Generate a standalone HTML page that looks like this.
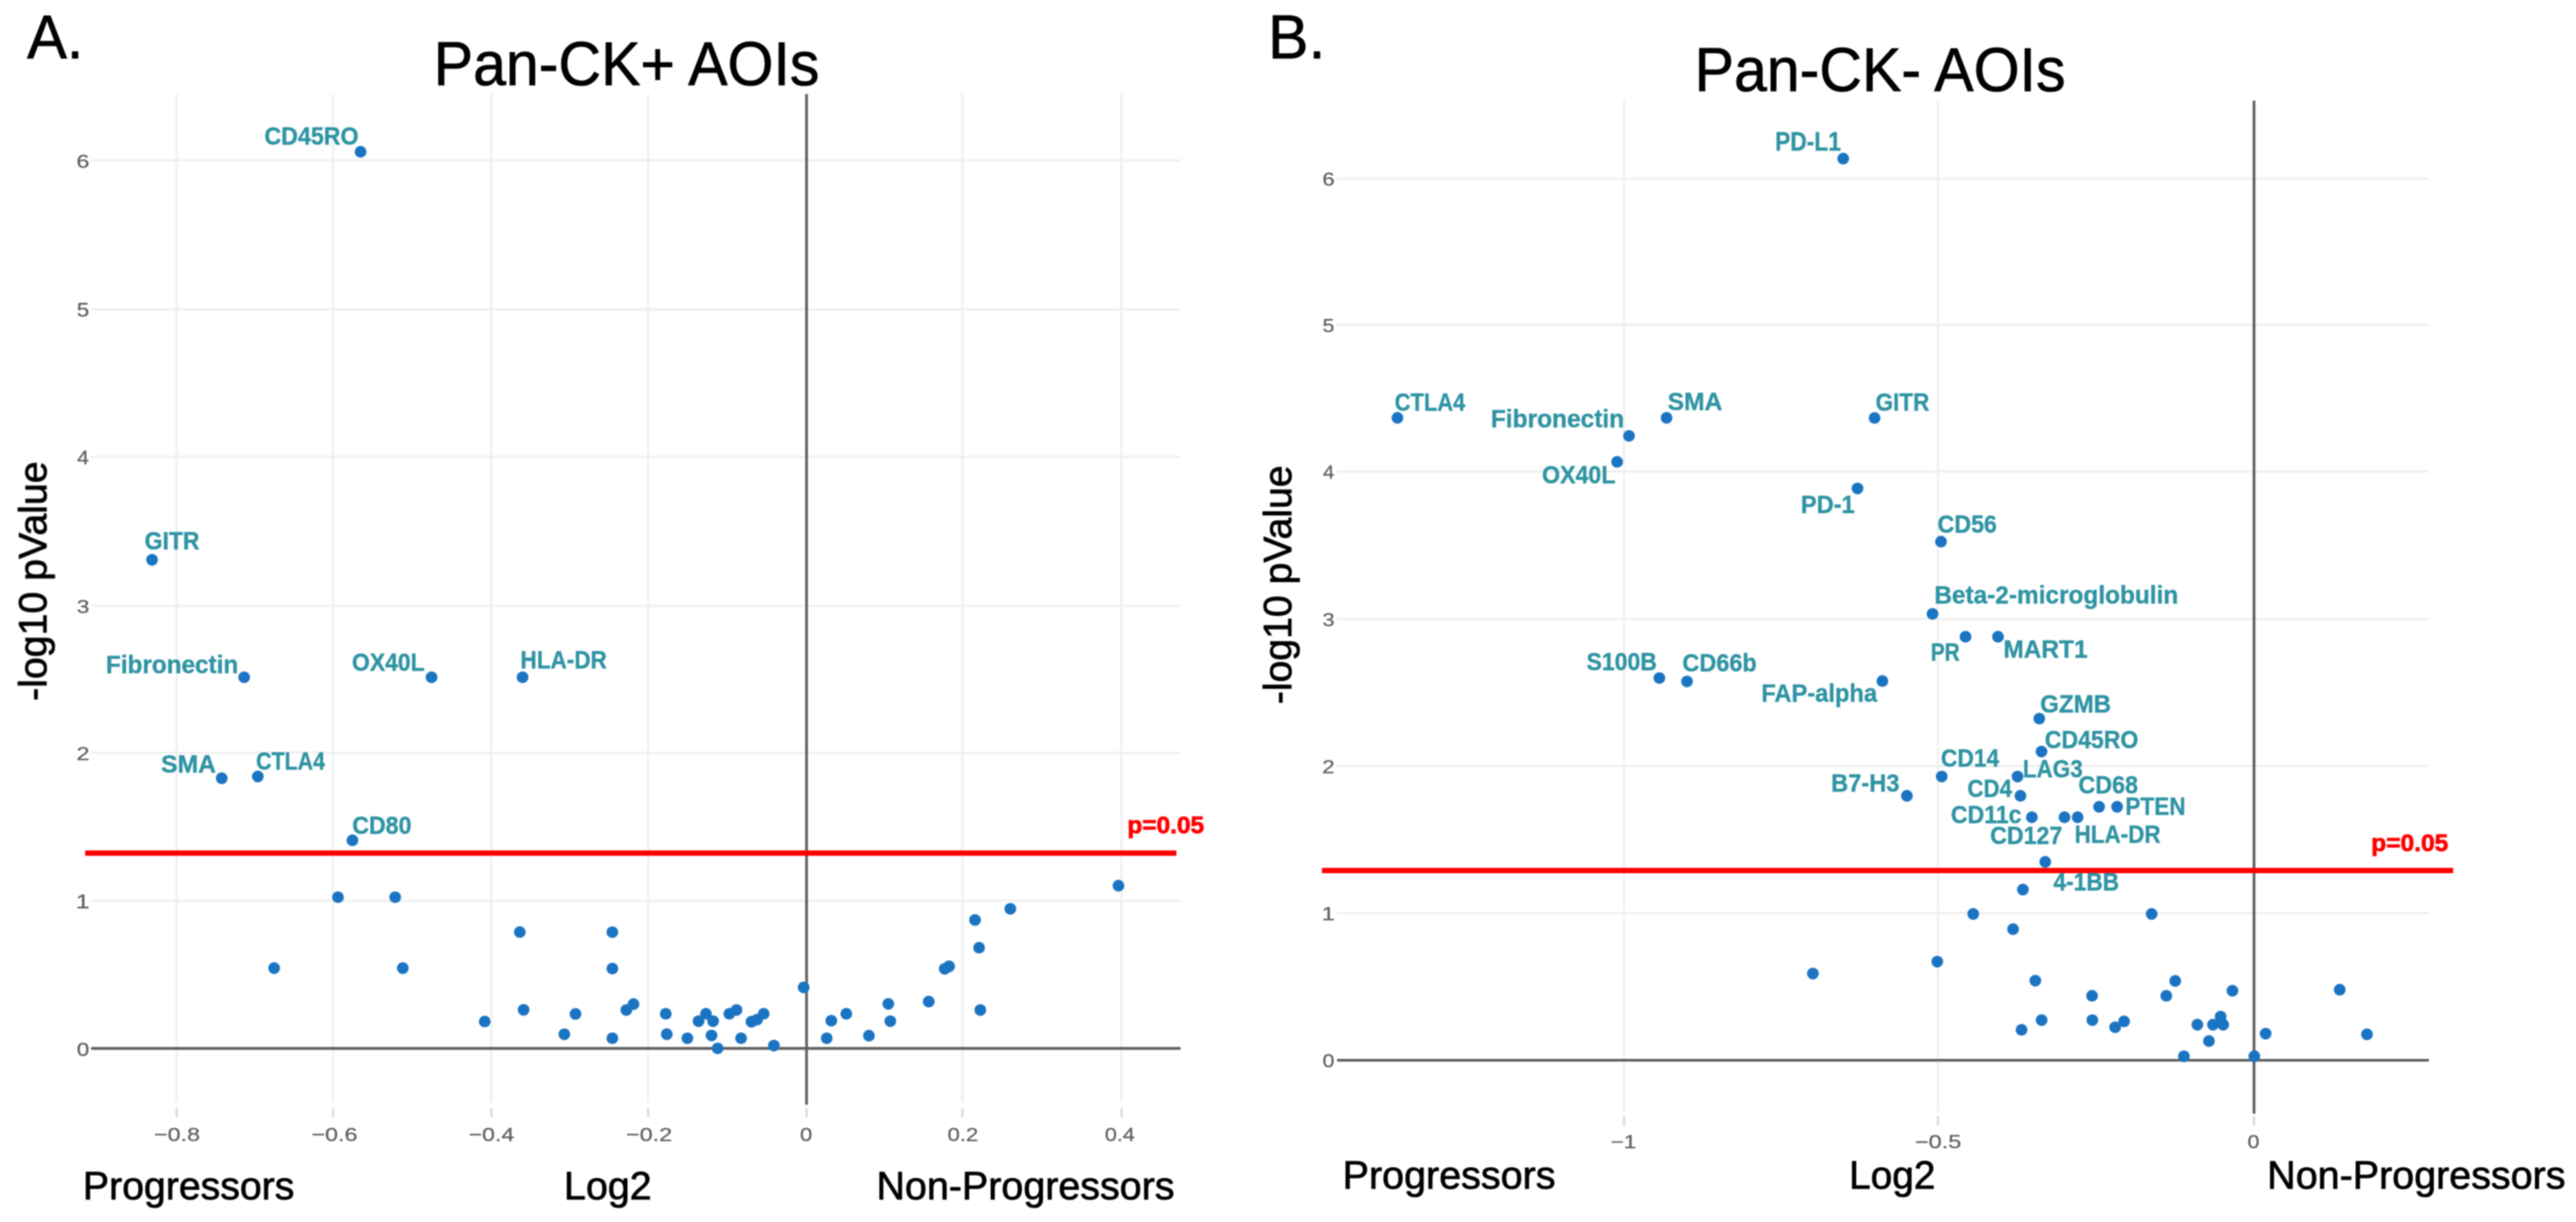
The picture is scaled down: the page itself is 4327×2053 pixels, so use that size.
<!DOCTYPE html>
<html><head><meta charset="utf-8"><title>Volcano plots</title>
<style>html,body{margin:0;padding:0;background:#fff;}svg{display:block;}text{font-family:"Liberation Sans",sans-serif;}</style>
</head><body>
<svg width="4327" height="2053" viewBox="0 0 4327 2053">
<defs><filter id="blL" color-interpolation-filters="sRGB" filterUnits="userSpaceOnUse" x="0" y="0" width="2090" height="2053"><feGaussianBlur stdDeviation="1.0"/></filter><filter id="blR" color-interpolation-filters="sRGB" filterUnits="userSpaceOnUse" x="2090" y="0" width="2237" height="2053"><feGaussianBlur stdDeviation="1.0"/></filter></defs>
<rect x="0" y="0" width="4327" height="2053" fill="#ffffff"/>
<g filter="url(#blL)">
<line x1="296.7" y1="158" x2="296.7" y2="1852" stroke="#f0f0f0" stroke-width="3.8"/>
<line x1="296.7" y1="1862" x2="296.7" y2="1877" stroke="#d9d9d9" stroke-width="3.8"/>
<line x1="559.5" y1="158" x2="559.5" y2="1852" stroke="#f0f0f0" stroke-width="3.8"/>
<line x1="559.5" y1="1862" x2="559.5" y2="1877" stroke="#d9d9d9" stroke-width="3.8"/>
<line x1="825.5" y1="158" x2="825.5" y2="1852" stroke="#f0f0f0" stroke-width="3.8"/>
<line x1="825.5" y1="1862" x2="825.5" y2="1877" stroke="#d9d9d9" stroke-width="3.8"/>
<line x1="1088.6" y1="158" x2="1088.6" y2="1852" stroke="#f0f0f0" stroke-width="3.8"/>
<line x1="1088.6" y1="1862" x2="1088.6" y2="1877" stroke="#d9d9d9" stroke-width="3.8"/>
<line x1="1616.5" y1="158" x2="1616.5" y2="1852" stroke="#f0f0f0" stroke-width="3.8"/>
<line x1="1616.5" y1="1862" x2="1616.5" y2="1877" stroke="#d9d9d9" stroke-width="3.8"/>
<line x1="1884.0" y1="158" x2="1884.0" y2="1852" stroke="#f0f0f0" stroke-width="3.8"/>
<line x1="1884.0" y1="1862" x2="1884.0" y2="1877" stroke="#d9d9d9" stroke-width="3.8"/>
<line x1="153" y1="269.4" x2="1983" y2="269.4" stroke="#f0f0f0" stroke-width="3.8"/>
<line x1="153" y1="520.0" x2="1983" y2="520.0" stroke="#f0f0f0" stroke-width="3.8"/>
<line x1="153" y1="767.3" x2="1983" y2="767.3" stroke="#f0f0f0" stroke-width="3.8"/>
<line x1="153" y1="1017.6" x2="1983" y2="1017.6" stroke="#f0f0f0" stroke-width="3.8"/>
<line x1="153" y1="1264.7" x2="1983" y2="1264.7" stroke="#f0f0f0" stroke-width="3.8"/>
<line x1="153" y1="1513.3" x2="1983" y2="1513.3" stroke="#f0f0f0" stroke-width="3.8"/>
<line x1="1354.8" y1="158" x2="1354.8" y2="1856" stroke="#606060" stroke-width="4.6"/>
<line x1="1354.8" y1="1862" x2="1354.8" y2="1877" stroke="#d9d9d9" stroke-width="3.8"/>
<line x1="153" y1="1761.4" x2="1983" y2="1761.4" stroke="#606060" stroke-width="4.6"/>
<circle cx="605.7" cy="255" r="9.9" fill="#1b74c2"/>
<circle cx="255.4" cy="940.5" r="9.9" fill="#1b74c2"/>
<circle cx="410.1" cy="1137.8" r="9.9" fill="#1b74c2"/>
<circle cx="724.9" cy="1137.8" r="9.9" fill="#1b74c2"/>
<circle cx="877.8" cy="1137.8" r="9.9" fill="#1b74c2"/>
<circle cx="372.5" cy="1307.4" r="9.9" fill="#1b74c2"/>
<circle cx="433.1" cy="1304.4" r="9.9" fill="#1b74c2"/>
<circle cx="592" cy="1411.7" r="9.9" fill="#1b74c2"/>
<circle cx="567.7" cy="1507.3" r="9.9" fill="#1b74c2"/>
<circle cx="663.8" cy="1507.3" r="9.9" fill="#1b74c2"/>
<circle cx="873.1" cy="1565.9" r="9.9" fill="#1b74c2"/>
<circle cx="1028.6" cy="1566.1" r="9.9" fill="#1b74c2"/>
<circle cx="460.5" cy="1626.5" r="9.9" fill="#1b74c2"/>
<circle cx="676.6" cy="1626.5" r="9.9" fill="#1b74c2"/>
<circle cx="1028.6" cy="1627.2" r="9.9" fill="#1b74c2"/>
<circle cx="879.5" cy="1696.6" r="9.9" fill="#1b74c2"/>
<circle cx="966.7" cy="1703.4" r="9.9" fill="#1b74c2"/>
<circle cx="1052.1" cy="1696.8" r="9.9" fill="#1b74c2"/>
<circle cx="1064.1" cy="1687" r="9.9" fill="#1b74c2"/>
<circle cx="814.2" cy="1716.2" r="9.9" fill="#1b74c2"/>
<circle cx="947.9" cy="1737.6" r="9.9" fill="#1b74c2"/>
<circle cx="1028.6" cy="1744.3" r="9.9" fill="#1b74c2"/>
<circle cx="1118.3" cy="1703.2" r="9.9" fill="#1b74c2"/>
<circle cx="1120" cy="1737.4" r="9.9" fill="#1b74c2"/>
<circle cx="1154.6" cy="1744.3" r="9.9" fill="#1b74c2"/>
<circle cx="1173.4" cy="1715.6" r="9.9" fill="#1b74c2"/>
<circle cx="1185.8" cy="1703.2" r="9.9" fill="#1b74c2"/>
<circle cx="1197.8" cy="1715.6" r="9.9" fill="#1b74c2"/>
<circle cx="1195.2" cy="1739.6" r="9.9" fill="#1b74c2"/>
<circle cx="1205.5" cy="1761.3" r="9.9" fill="#1b74c2"/>
<circle cx="1225.1" cy="1703.2" r="9.9" fill="#1b74c2"/>
<circle cx="1237.1" cy="1696.8" r="9.9" fill="#1b74c2"/>
<circle cx="1244.8" cy="1744.3" r="9.9" fill="#1b74c2"/>
<circle cx="1262.3" cy="1716.5" r="9.9" fill="#1b74c2"/>
<circle cx="1271.7" cy="1713.1" r="9.9" fill="#1b74c2"/>
<circle cx="1282.8" cy="1703.2" r="9.9" fill="#1b74c2"/>
<circle cx="1299.9" cy="1756.6" r="9.9" fill="#1b74c2"/>
<circle cx="1349.9" cy="1658.8" r="9.9" fill="#1b74c2"/>
<circle cx="1388.7" cy="1744.3" r="9.9" fill="#1b74c2"/>
<circle cx="1396.4" cy="1714.8" r="9.9" fill="#1b74c2"/>
<circle cx="1421.6" cy="1703.2" r="9.9" fill="#1b74c2"/>
<circle cx="1459.6" cy="1740" r="9.9" fill="#1b74c2"/>
<circle cx="1492.1" cy="1686.6" r="9.9" fill="#1b74c2"/>
<circle cx="1495.5" cy="1715.6" r="9.9" fill="#1b74c2"/>
<circle cx="1560" cy="1682.7" r="9.9" fill="#1b74c2"/>
<circle cx="1586.9" cy="1627.6" r="9.9" fill="#1b74c2"/>
<circle cx="1594.2" cy="1623.4" r="9.9" fill="#1b74c2"/>
<circle cx="1637.8" cy="1545.6" r="9.9" fill="#1b74c2"/>
<circle cx="1644.6" cy="1592.2" r="9.9" fill="#1b74c2"/>
<circle cx="1646.7" cy="1696.8" r="9.9" fill="#1b74c2"/>
<circle cx="1697.1" cy="1526.8" r="9.9" fill="#1b74c2"/>
<circle cx="1878.7" cy="1488" r="9.9" fill="#1b74c2"/>
<line x1="143" y1="1433.2" x2="1976" y2="1433.2" stroke="#ff0000" stroke-width="9"/>
<text transform="translate(444.24,243.20) scale(0.9272,1)" font-size="42.03" font-weight="bold" fill="#2f93a3" stroke="#2f93a3" stroke-width="0.6" stroke-linejoin="round">CD45RO</text>
<text transform="translate(243.06,923.10) scale(0.9169,1)" font-size="42.03" font-weight="bold" fill="#2f93a3" stroke="#2f93a3" stroke-width="0.6" stroke-linejoin="round">GITR</text>
<text transform="translate(177.95,1131.20) scale(0.9714,1)" font-size="42.03" font-weight="bold" fill="#2f93a3" stroke="#2f93a3" stroke-width="0.6" stroke-linejoin="round">Fibronectin</text>
<text transform="translate(591.26,1127.00) scale(0.9164,1)" font-size="42.03" font-weight="bold" fill="#2f93a3" stroke="#2f93a3" stroke-width="0.6" stroke-linejoin="round">OX40L</text>
<text transform="translate(874.34,1122.90) scale(0.9003,1)" font-size="42.03" font-weight="bold" fill="#2f93a3" stroke="#2f93a3" stroke-width="0.6" stroke-linejoin="round">HLA-DR</text>
<text transform="translate(270.45,1298.40) scale(0.9891,1)" font-size="42.03" font-weight="bold" fill="#2f93a3" stroke="#2f93a3" stroke-width="0.6" stroke-linejoin="round">SMA</text>
<text transform="translate(430.27,1292.50) scale(0.8536,1)" font-size="42.03" font-weight="bold" fill="#2f93a3" stroke="#2f93a3" stroke-width="0.6" stroke-linejoin="round">CTLA4</text>
<text transform="translate(591.64,1400.50) scale(0.9267,1)" font-size="42.03" font-weight="bold" fill="#2f93a3" stroke="#2f93a3" stroke-width="0.6" stroke-linejoin="round">CD80</text>
<text transform="translate(1893.73,1400.10) scale(0.9973,1)" font-size="41.16" font-weight="bold" fill="#ff0000" stroke="#ff0000" stroke-width="1.2" stroke-linejoin="round">p=0.05</text>
<text transform="translate(45.40,97.70) scale(0.9712,1)" font-size="103.33" font-weight="normal" fill="#000000" stroke="#000000" stroke-width="1.2" stroke-linejoin="round">A.</text>
<text transform="translate(728.46,142.90) scale(0.9615,1)" font-size="103.19" font-weight="normal" fill="#000000" stroke="#000000" stroke-width="1.2" stroke-linejoin="round">Pan-CK+ AOIs</text>
<text transform="translate(139.33,2015.00) scale(0.9884,1)" font-size="66.67" font-weight="normal" fill="#000000" stroke="#000000" stroke-width="1.2" stroke-linejoin="round">Progressors</text>
<text transform="translate(947.30,2015.00) scale(0.9938,1)" font-size="66.67" font-weight="normal" fill="#000000" stroke="#000000" stroke-width="1.2" stroke-linejoin="round">Log2</text>
<text transform="translate(1472.30,2015.00) scale(0.9935,1)" font-size="66.67" font-weight="normal" fill="#000000" stroke="#000000" stroke-width="1.2" stroke-linejoin="round">Non-Progressors</text>
<text transform="translate(258.64,1916.80) scale(1.2289,1)" font-size="31.86" font-weight="normal" fill="#5f5f5f" stroke="#5f5f5f" stroke-width="0.4" stroke-linejoin="round">−0.8</text>
<text transform="translate(523.24,1916.80) scale(1.2289,1)" font-size="31.86" font-weight="normal" fill="#5f5f5f" stroke="#5f5f5f" stroke-width="0.4" stroke-linejoin="round">−0.6</text>
<text transform="translate(787.16,1916.80) scale(1.2192,1)" font-size="31.86" font-weight="normal" fill="#5f5f5f" stroke="#5f5f5f" stroke-width="0.4" stroke-linejoin="round">−0.4</text>
<text transform="translate(1051.54,1916.80) scale(1.2322,1)" font-size="31.86" font-weight="normal" fill="#5f5f5f" stroke="#5f5f5f" stroke-width="0.4" stroke-linejoin="round">−0.2</text>
<text transform="translate(1343.72,1916.80) scale(1.1631,1)" font-size="31.86" font-weight="normal" fill="#5f5f5f" stroke="#5f5f5f" stroke-width="0.4" stroke-linejoin="round">0</text>
<text transform="translate(1591.40,1916.80) scale(1.1735,1)" font-size="31.86" font-weight="normal" fill="#5f5f5f" stroke="#5f5f5f" stroke-width="0.4" stroke-linejoin="round">0.2</text>
<text transform="translate(1855.69,1916.80) scale(1.1438,1)" font-size="31.86" font-weight="normal" fill="#5f5f5f" stroke="#5f5f5f" stroke-width="0.4" stroke-linejoin="round">0.4</text>
<text transform="translate(128.55,281.80) scale(1.2160,1)" font-size="32.00" font-weight="normal" fill="#5f5f5f" stroke="#5f5f5f" stroke-width="0.4" stroke-linejoin="round">6</text>
<text transform="translate(128.99,532.40) scale(1.1608,1)" font-size="32.46" font-weight="normal" fill="#5f5f5f" stroke="#5f5f5f" stroke-width="0.4" stroke-linejoin="round">5</text>
<text transform="translate(129.60,779.70) scale(1.1028,1)" font-size="32.46" font-weight="normal" fill="#5f5f5f" stroke="#5f5f5f" stroke-width="0.4" stroke-linejoin="round">4</text>
<text transform="translate(128.98,1030.00) scale(1.1902,1)" font-size="32.00" font-weight="normal" fill="#5f5f5f" stroke="#5f5f5f" stroke-width="0.4" stroke-linejoin="round">3</text>
<text transform="translate(128.53,1277.10) scale(1.2294,1)" font-size="32.00" font-weight="normal" fill="#5f5f5f" stroke="#5f5f5f" stroke-width="0.4" stroke-linejoin="round">2</text>
<text transform="translate(127.38,1525.70) scale(1.2823,1)" font-size="32.46" font-weight="normal" fill="#5f5f5f" stroke="#5f5f5f" stroke-width="0.4" stroke-linejoin="round">1</text>
<text transform="translate(128.99,1773.80) scale(1.1776,1)" font-size="32.00" font-weight="normal" fill="#5f5f5f" stroke="#5f5f5f" stroke-width="0.4" stroke-linejoin="round">0</text>
<text transform="translate(78.00,1177.57) rotate(-90) scale(0.9991,1)" font-size="66.07" fill="#000000" stroke="#000000" stroke-width="1.2" stroke-linejoin="round">-log10 pValue</text>
</g>
<g filter="url(#blR)">
<line x1="2728.0" y1="169" x2="2728.0" y2="1869" stroke="#f0f0f0" stroke-width="3.8"/>
<line x1="2728.0" y1="1875" x2="2728.0" y2="1891" stroke="#d9d9d9" stroke-width="3.8"/>
<line x1="3255.2" y1="169" x2="3255.2" y2="1869" stroke="#f0f0f0" stroke-width="3.8"/>
<line x1="3255.2" y1="1875" x2="3255.2" y2="1891" stroke="#d9d9d9" stroke-width="3.8"/>
<line x1="2246" y1="300.2" x2="4080" y2="300.2" stroke="#f0f0f0" stroke-width="3.8"/>
<line x1="2246" y1="545.5" x2="4080" y2="545.5" stroke="#f0f0f0" stroke-width="3.8"/>
<line x1="2246" y1="792.0" x2="4080" y2="792.0" stroke="#f0f0f0" stroke-width="3.8"/>
<line x1="2246" y1="1040.2" x2="4080" y2="1040.2" stroke="#f0f0f0" stroke-width="3.8"/>
<line x1="2246" y1="1287.0" x2="4080" y2="1287.0" stroke="#f0f0f0" stroke-width="3.8"/>
<line x1="2246" y1="1534.0" x2="4080" y2="1534.0" stroke="#f0f0f0" stroke-width="3.8"/>
<line x1="3786.2" y1="169" x2="3786.2" y2="1871" stroke="#606060" stroke-width="4.6"/>
<line x1="3786.2" y1="1875" x2="3786.2" y2="1891" stroke="#d9d9d9" stroke-width="3.8"/>
<line x1="2246" y1="1781.3" x2="4080" y2="1781.3" stroke="#606060" stroke-width="4.6"/>
<circle cx="3096.1" cy="266.4" r="9.9" fill="#1b74c2"/>
<circle cx="2347.3" cy="702" r="9.9" fill="#1b74c2"/>
<circle cx="2736.3" cy="732.3" r="9.9" fill="#1b74c2"/>
<circle cx="2799.4" cy="702" r="9.9" fill="#1b74c2"/>
<circle cx="2716.3" cy="775.9" r="9.9" fill="#1b74c2"/>
<circle cx="3120.1" cy="820.6" r="9.9" fill="#1b74c2"/>
<circle cx="3148.8" cy="702.2" r="9.9" fill="#1b74c2"/>
<circle cx="3260.4" cy="909.9" r="9.9" fill="#1b74c2"/>
<circle cx="3246.1" cy="1031.3" r="9.9" fill="#1b74c2"/>
<circle cx="3301.6" cy="1069.7" r="9.9" fill="#1b74c2"/>
<circle cx="3356.1" cy="1069.7" r="9.9" fill="#1b74c2"/>
<circle cx="2787.3" cy="1139.1" r="9.9" fill="#1b74c2"/>
<circle cx="2833.7" cy="1144.8" r="9.9" fill="#1b74c2"/>
<circle cx="3161.9" cy="1144.2" r="9.9" fill="#1b74c2"/>
<circle cx="3425.5" cy="1207.3" r="9.9" fill="#1b74c2"/>
<circle cx="3429.2" cy="1262.6" r="9.9" fill="#1b74c2"/>
<circle cx="3261.6" cy="1304.6" r="9.9" fill="#1b74c2"/>
<circle cx="3388.9" cy="1304.6" r="9.9" fill="#1b74c2"/>
<circle cx="3203.1" cy="1337" r="9.9" fill="#1b74c2"/>
<circle cx="3393.8" cy="1337" r="9.9" fill="#1b74c2"/>
<circle cx="3525.9" cy="1355.4" r="9.9" fill="#1b74c2"/>
<circle cx="3556.2" cy="1355.4" r="9.9" fill="#1b74c2"/>
<circle cx="3413" cy="1373" r="9.9" fill="#1b74c2"/>
<circle cx="3467.8" cy="1373" r="9.9" fill="#1b74c2"/>
<circle cx="3489.9" cy="1373" r="9.9" fill="#1b74c2"/>
<circle cx="3435.5" cy="1448" r="9.9" fill="#1b74c2"/>
<circle cx="3397.9" cy="1494.5" r="9.9" fill="#1b74c2"/>
<circle cx="3314.5" cy="1535.4" r="9.9" fill="#1b74c2"/>
<circle cx="3614.2" cy="1535.4" r="9.9" fill="#1b74c2"/>
<circle cx="3381.4" cy="1561" r="9.9" fill="#1b74c2"/>
<circle cx="3254.1" cy="1615.6" r="9.9" fill="#1b74c2"/>
<circle cx="3045.2" cy="1635.6" r="9.9" fill="#1b74c2"/>
<circle cx="3418.8" cy="1647.6" r="9.9" fill="#1b74c2"/>
<circle cx="3653.8" cy="1648" r="9.9" fill="#1b74c2"/>
<circle cx="3514.1" cy="1672.9" r="9.9" fill="#1b74c2"/>
<circle cx="3638.8" cy="1672.9" r="9.9" fill="#1b74c2"/>
<circle cx="3749.9" cy="1664.4" r="9.9" fill="#1b74c2"/>
<circle cx="3930.1" cy="1662.7" r="9.9" fill="#1b74c2"/>
<circle cx="3429.4" cy="1713.8" r="9.9" fill="#1b74c2"/>
<circle cx="3395.7" cy="1730.2" r="9.9" fill="#1b74c2"/>
<circle cx="3514.6" cy="1713.8" r="9.9" fill="#1b74c2"/>
<circle cx="3552.9" cy="1725.8" r="9.9" fill="#1b74c2"/>
<circle cx="3567.9" cy="1715.9" r="9.9" fill="#1b74c2"/>
<circle cx="3691" cy="1721.5" r="9.9" fill="#1b74c2"/>
<circle cx="3717.3" cy="1721.5" r="9.9" fill="#1b74c2"/>
<circle cx="3730.1" cy="1707.8" r="9.9" fill="#1b74c2"/>
<circle cx="3734.4" cy="1721.5" r="9.9" fill="#1b74c2"/>
<circle cx="3710.5" cy="1749" r="9.9" fill="#1b74c2"/>
<circle cx="3668.4" cy="1774.6" r="9.9" fill="#1b74c2"/>
<circle cx="3786.7" cy="1774.4" r="9.9" fill="#1b74c2"/>
<circle cx="3805.7" cy="1736.6" r="9.9" fill="#1b74c2"/>
<circle cx="3975.9" cy="1737.7" r="9.9" fill="#1b74c2"/>
<line x1="2220.5" y1="1462.6" x2="4120.6" y2="1462.6" stroke="#ff0000" stroke-width="9"/>
<text transform="translate(2981.71,253.00) scale(0.8681,1)" font-size="44.06" font-weight="bold" fill="#2f93a3" stroke="#2f93a3" stroke-width="0.6" stroke-linejoin="round">PD-L1</text>
<text transform="translate(2342.73,689.90) scale(0.8753,1)" font-size="42.03" font-weight="bold" fill="#2f93a3" stroke="#2f93a3" stroke-width="0.6" stroke-linejoin="round">CTLA4</text>
<text transform="translate(2504.23,718.30) scale(0.9786,1)" font-size="42.03" font-weight="bold" fill="#2f93a3" stroke="#2f93a3" stroke-width="0.6" stroke-linejoin="round">Fibronectin</text>
<text transform="translate(2801.26,688.80) scale(0.9825,1)" font-size="42.03" font-weight="bold" fill="#2f93a3" stroke="#2f93a3" stroke-width="0.6" stroke-linejoin="round">SMA</text>
<text transform="translate(3150.38,689.90) scale(0.9016,1)" font-size="42.03" font-weight="bold" fill="#2f93a3" stroke="#2f93a3" stroke-width="0.6" stroke-linejoin="round">GITR</text>
<text transform="translate(2590.14,811.80) scale(0.9272,1)" font-size="42.03" font-weight="bold" fill="#2f93a3" stroke="#2f93a3" stroke-width="0.6" stroke-linejoin="round">OX40L</text>
<text transform="translate(3025.02,861.80) scale(0.9441,1)" font-size="42.03" font-weight="bold" fill="#2f93a3" stroke="#2f93a3" stroke-width="0.6" stroke-linejoin="round">PD-1</text>
<text transform="translate(3254.54,895.00) scale(0.9287,1)" font-size="42.03" font-weight="bold" fill="#2f93a3" stroke="#2f93a3" stroke-width="0.6" stroke-linejoin="round">CD56</text>
<text transform="translate(3249.14,1014.20) scale(0.9751,1)" font-size="42.03" font-weight="bold" fill="#2f93a3" stroke="#2f93a3" stroke-width="0.6" stroke-linejoin="round">Beta-2-microglobulin</text>
<text transform="translate(3243.22,1110.20) scale(0.8346,1)" font-size="42.03" font-weight="bold" fill="#2f93a3" stroke="#2f93a3" stroke-width="0.6" stroke-linejoin="round">PR</text>
<text transform="translate(3365.13,1105.20) scale(0.9766,1)" font-size="42.03" font-weight="bold" fill="#2f93a3" stroke="#2f93a3" stroke-width="0.6" stroke-linejoin="round">MART1</text>
<text transform="translate(2665.04,1125.90) scale(0.9190,1)" font-size="42.03" font-weight="bold" fill="#2f93a3" stroke="#2f93a3" stroke-width="0.6" stroke-linejoin="round">S100B</text>
<text transform="translate(2826.12,1128.00) scale(0.9371,1)" font-size="42.03" font-weight="bold" fill="#2f93a3" stroke="#2f93a3" stroke-width="0.6" stroke-linejoin="round">CD66b</text>
<text transform="translate(2958.41,1178.60) scale(0.9473,1)" font-size="42.03" font-weight="bold" fill="#2f93a3" stroke="#2f93a3" stroke-width="0.6" stroke-linejoin="round">FAP-alpha</text>
<text transform="translate(3427.08,1197.20) scale(0.9617,1)" font-size="42.03" font-weight="bold" fill="#2f93a3" stroke="#2f93a3" stroke-width="0.6" stroke-linejoin="round">GZMB</text>
<text transform="translate(3434.85,1257.20) scale(0.9218,1)" font-size="42.03" font-weight="bold" fill="#2f93a3" stroke="#2f93a3" stroke-width="0.6" stroke-linejoin="round">CD45RO</text>
<text transform="translate(3260.37,1288.30) scale(0.9100,1)" font-size="42.03" font-weight="bold" fill="#2f93a3" stroke="#2f93a3" stroke-width="0.6" stroke-linejoin="round">CD14</text>
<text transform="translate(3397.75,1305.50) scale(0.8979,1)" font-size="42.03" font-weight="bold" fill="#2f93a3" stroke="#2f93a3" stroke-width="0.6" stroke-linejoin="round">LAG3</text>
<text transform="translate(3075.71,1330.00) scale(0.9466,1)" font-size="42.03" font-weight="bold" fill="#2f93a3" stroke="#2f93a3" stroke-width="0.6" stroke-linejoin="round">B7-H3</text>
<text transform="translate(3304.70,1339.10) scale(0.8909,1)" font-size="42.03" font-weight="bold" fill="#2f93a3" stroke="#2f93a3" stroke-width="0.6" stroke-linejoin="round">CD4</text>
<text transform="translate(3491.24,1333.30) scale(0.9307,1)" font-size="42.03" font-weight="bold" fill="#2f93a3" stroke="#2f93a3" stroke-width="0.6" stroke-linejoin="round">CD68</text>
<text transform="translate(3569.93,1369.20) scale(0.9048,1)" font-size="42.03" font-weight="bold" fill="#2f93a3" stroke="#2f93a3" stroke-width="0.6" stroke-linejoin="round">PTEN</text>
<text transform="translate(3277.05,1382.80) scale(0.9230,1)" font-size="42.03" font-weight="bold" fill="#2f93a3" stroke="#2f93a3" stroke-width="0.6" stroke-linejoin="round">CD11c</text>
<text transform="translate(3342.94,1417.70) scale(0.9266,1)" font-size="42.03" font-weight="bold" fill="#2f93a3" stroke="#2f93a3" stroke-width="0.6" stroke-linejoin="round">CD127</text>
<text transform="translate(3484.65,1415.60) scale(0.8984,1)" font-size="42.03" font-weight="bold" fill="#2f93a3" stroke="#2f93a3" stroke-width="0.6" stroke-linejoin="round">HLA-DR</text>
<text transform="translate(3449.23,1495.60) scale(0.9097,1)" font-size="42.03" font-weight="bold" fill="#2f93a3" stroke="#2f93a3" stroke-width="0.6" stroke-linejoin="round">4-1BB</text>
<text transform="translate(3983.12,1430.00) scale(1.0013,1)" font-size="41.16" font-weight="bold" fill="#ff0000" stroke="#ff0000" stroke-width="1.2" stroke-linejoin="round">p=0.05</text>
<text transform="translate(2130.06,98.10) scale(0.9852,1)" font-size="103.33" font-weight="normal" fill="#000000" stroke="#000000" stroke-width="1.2" stroke-linejoin="round">B.</text>
<text transform="translate(2846.46,152.50) scale(0.9497,1)" font-size="104.49" font-weight="normal" fill="#000000" stroke="#000000" stroke-width="1.2" stroke-linejoin="round">Pan-CK- AOIs</text>
<text transform="translate(2255.19,1997.40) scale(0.9867,1)" font-size="67.25" font-weight="normal" fill="#000000" stroke="#000000" stroke-width="1.2" stroke-linejoin="round">Progressors</text>
<text transform="translate(3105.88,1997.40) scale(0.9703,1)" font-size="67.25" font-weight="normal" fill="#000000" stroke="#000000" stroke-width="1.2" stroke-linejoin="round">Log2</text>
<text transform="translate(3808.30,1997.40) scale(0.9858,1)" font-size="67.25" font-weight="normal" fill="#000000" stroke="#000000" stroke-width="1.2" stroke-linejoin="round">Non-Progressors</text>
<text transform="translate(2705.46,1929.40) scale(1.1961,1)" font-size="31.59" font-weight="normal" fill="#5f5f5f" stroke="#5f5f5f" stroke-width="0.4" stroke-linejoin="round">−1</text>
<text transform="translate(3216.22,1929.40) scale(1.2742,1)" font-size="31.14" font-weight="normal" fill="#5f5f5f" stroke="#5f5f5f" stroke-width="0.4" stroke-linejoin="round">−0.5</text>
<text transform="translate(3775.31,1929.40) scale(1.1560,1)" font-size="31.14" font-weight="normal" fill="#5f5f5f" stroke="#5f5f5f" stroke-width="0.4" stroke-linejoin="round">0</text>
<text transform="translate(2221.14,312.30) scale(1.1722,1)" font-size="31.71" font-weight="normal" fill="#5f5f5f" stroke="#5f5f5f" stroke-width="0.4" stroke-linejoin="round">6</text>
<text transform="translate(2221.56,557.60) scale(1.1189,1)" font-size="32.17" font-weight="normal" fill="#5f5f5f" stroke="#5f5f5f" stroke-width="0.4" stroke-linejoin="round">5</text>
<text transform="translate(2222.14,804.10) scale(1.0630,1)" font-size="32.17" font-weight="normal" fill="#5f5f5f" stroke="#5f5f5f" stroke-width="0.4" stroke-linejoin="round">4</text>
<text transform="translate(2221.54,1052.30) scale(1.1472,1)" font-size="31.71" font-weight="normal" fill="#5f5f5f" stroke="#5f5f5f" stroke-width="0.4" stroke-linejoin="round">3</text>
<text transform="translate(2221.12,1299.10) scale(1.1850,1)" font-size="31.71" font-weight="normal" fill="#5f5f5f" stroke="#5f5f5f" stroke-width="0.4" stroke-linejoin="round">2</text>
<text transform="translate(2220.02,1546.10) scale(1.2360,1)" font-size="32.17" font-weight="normal" fill="#5f5f5f" stroke="#5f5f5f" stroke-width="0.4" stroke-linejoin="round">1</text>
<text transform="translate(2221.56,1793.40) scale(1.1351,1)" font-size="31.71" font-weight="normal" fill="#5f5f5f" stroke="#5f5f5f" stroke-width="0.4" stroke-linejoin="round">0</text>
<text transform="translate(2169.00,1183.06) rotate(-90) scale(0.9878,1)" font-size="66.62" fill="#000000" stroke="#000000" stroke-width="1.2" stroke-linejoin="round">-log10 pValue</text>
</g>
</svg></body></html>
